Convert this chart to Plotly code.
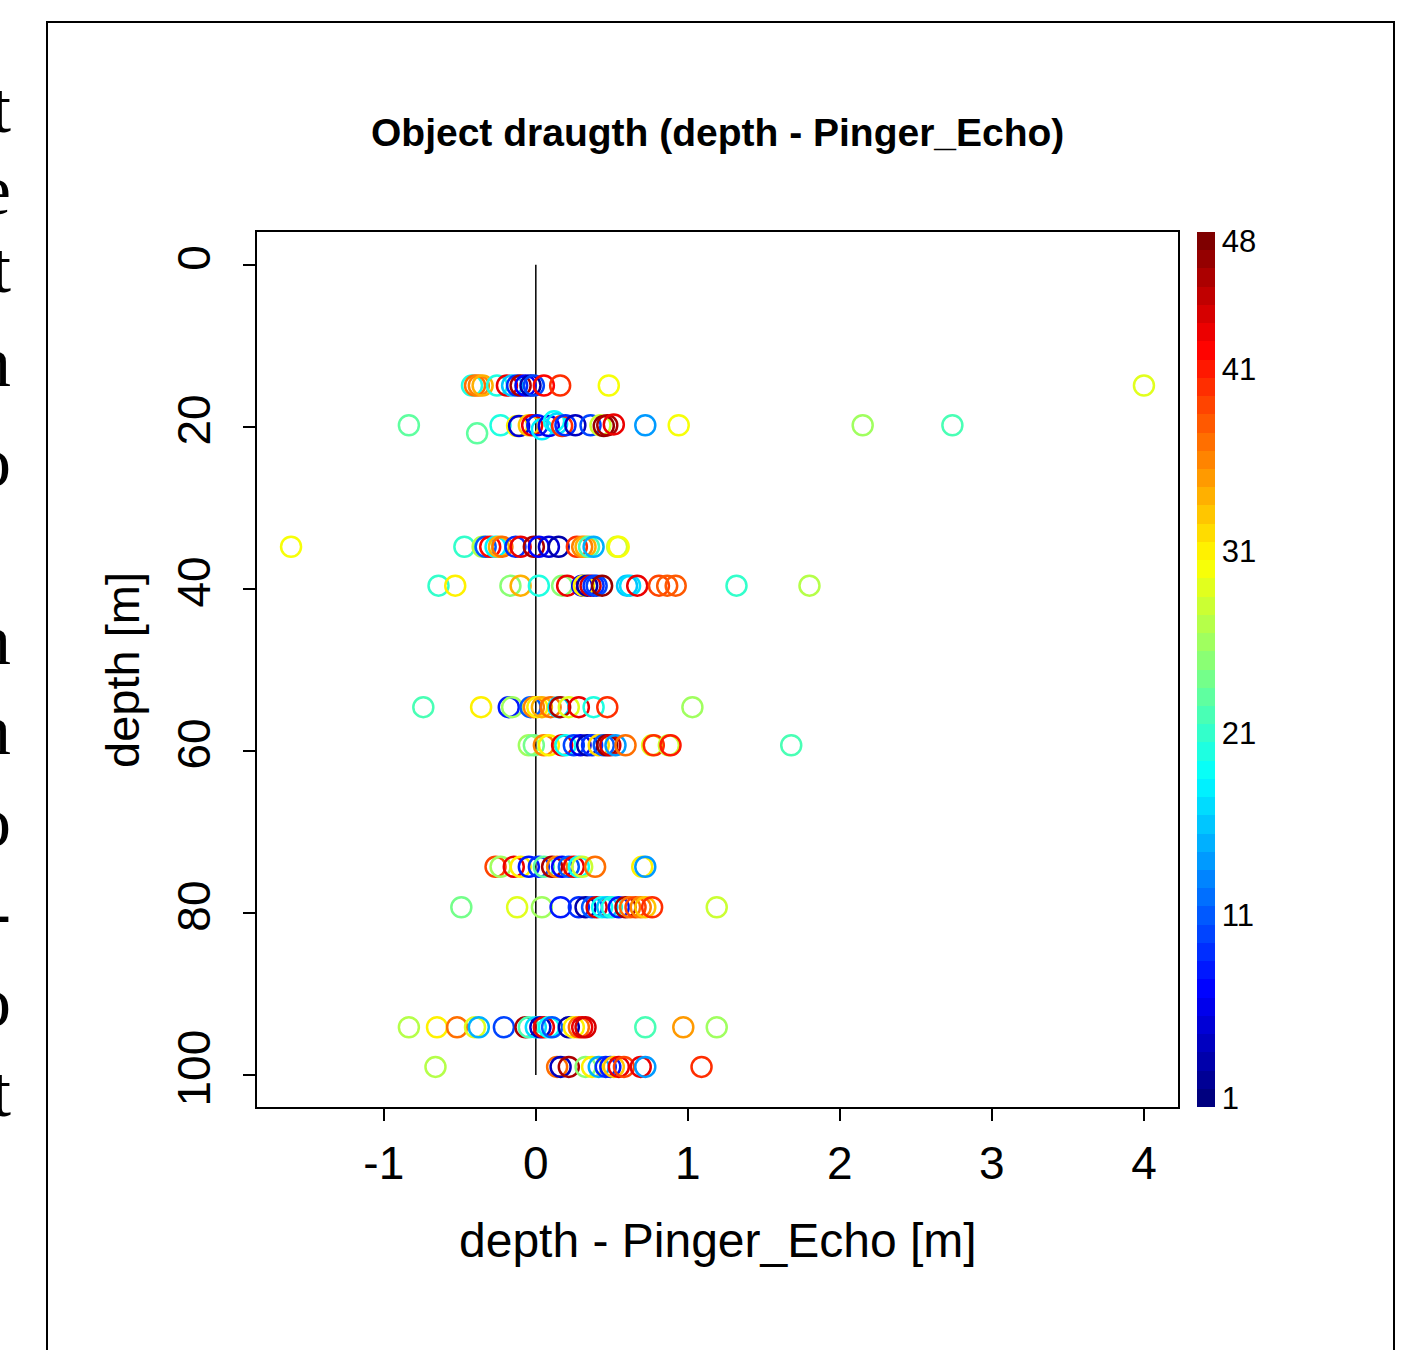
import plotly.graph_objects as go

# ---------------- data ----------------
diff_m = [
    # ~15 m
    -0.42, -0.40, -0.375, -0.35, -0.255, -0.19, -0.156, -0.123, -0.10, -0.068, -0.035, -0.013, 0.053, 0.16, 0.48, 4.0,
    # ~20 m
    -0.835, -0.386, -0.232, -0.123, -0.11, -0.046, -0.024, 0.01, 0.04, 0.085, 0.12, 0.14, 0.173, 0.195, 0.26, 0.36,
    0.425, 0.447, 0.47, 0.513, 0.72, 0.94, 2.15, 2.74,
    # ~35 m
    -1.61, -0.47, -0.35, -0.33, -0.30, -0.265, -0.243, -0.22, -0.134, -0.10, -0.013, 0.02, 0.086, 0.15, 0.27, 0.305,
    0.327, 0.35, 0.38, 0.535, 0.545,
    # ~40 m
    -0.64, -0.53, -0.167, -0.10, 0.02, 0.173, 0.206, 0.305, 0.316, 0.338, 0.36, 0.38, 0.40, 0.436, 0.60, 0.62, 0.667,
    0.81, 0.864, 0.92, 1.32, 1.80,
    # ~55 m
    -0.74, -0.36, -0.178, -0.156, -0.035, -0.013, 0.01, 0.04, 0.097, 0.15, 0.16, 0.217, 0.283, 0.38, 0.47, 1.03,
    # ~60 m
    -0.046, -0.013, 0.053, 0.086, 0.173, 0.195, 0.25, 0.294, 0.338, 0.37, 0.414, 0.447, 0.47, 0.49, 0.524, 0.59,
    0.765, 0.776, 0.875, 0.886, 1.68,
    # ~75 m
    -0.265, -0.232, -0.145, -0.10, -0.046, 0.02, 0.053, 0.107, 0.14, 0.173, 0.217, 0.25, 0.283, 0.305, 0.39, 0.70, 0.72,
    # ~80 m
    -0.49, -0.123, 0.04, 0.163, 0.283, 0.327, 0.37, 0.40, 0.436, 0.47, 0.50, 0.546, 0.59, 0.62, 0.656, 0.69, 0.72,
    0.765, 1.19,
    # ~95 m
    -0.835, -0.65, -0.518, -0.40, -0.375, -0.21, -0.068, -0.046, 0.0, 0.03, 0.053, 0.086, 0.107, 0.217, 0.25, 0.283,
    0.305, 0.327, 0.72, 0.97, 1.19,
    # ~100 m
    -0.66, 0.14, 0.163, 0.217, 0.327, 0.37, 0.414, 0.46, 0.49, 0.513, 0.546, 0.58, 0.69, 0.72, 1.09,
]

depth_m = (
    [14.9] * 16
    + [19.8, 20.8, 19.8, 19.9, 19.9, 19.8, 19.8, 19.8, 20.3, 19.9, 19.3, 19.6, 19.9, 19.8, 19.8, 19.8,
       19.8, 19.9, 19.8, 19.7, 19.8, 19.8, 19.8, 19.8]
    + [34.8] * 21
    + [39.6] * 22
    + [54.6] * 16
    + [59.3] * 21
    + [74.3] * 17
    + [79.3] * 19
    + [94.1] * 21
    + [99.0] * 15
)

ping_no = [
    20, 37, 36, 34, 20, 43, 16, 9, 46, 7, 3, 10, 42, 40, 30, 29,
    23, 23, 20, 31, 5, 33, 43, 8, 18, 6, 19, 17, 40, 9, 4, 10, 28, 47, 46, 43, 14, 30, 26, 22,
    30, 21, 27, 11, 42, 18, 34, 37, 9, 43, 46, 7, 5, 3, 40, 36, 34, 22, 15, 28, 30,
    21, 31, 25, 34, 20, 25, 43, 6, 31, 3, 44, 9, 10, 47, 16, 17, 43, 39, 38, 38, 21, 27,
    22, 31, 8, 26, 11, 36, 31, 34, 37, 17, 46, 29, 43, 20, 40, 26,
    26, 24, 36, 31, 43, 19, 10, 6, 3, 9, 32, 11, 47, 44, 14, 37, 29, 40, 28, 41, 22,
    39, 26, 43, 31, 8, 9, 23, 46, 36, 7, 11, 43, 19, 28, 37, 31, 14,
    24, 29, 26, 8, 9, 3, 11, 44, 19, 16, 20, 8, 46, 37, 39, 36, 33, 40, 28,
    27, 31, 37, 29, 15, 10, 46, 22, 17, 4, 43, 19, 11, 3, 31, 37, 43, 44, 22, 35, 26,
    27, 37, 4, 46, 25, 31, 15, 9, 8, 33, 43, 39, 43, 14, 40,
]

x_ticks = [-1, 0, 1, 2, 3, 4]
y_ticks = [0, 20, 40, 60, 80, 100]
cbar_ticks = [1, 11, 21, 31, 41, 48]
ref_line_depth = [0, 100]
ref_line_diff = [0, 0]
n_levels = 48

# ---------------- jet palette (R style colorRampPalette) ----------------
anchors = ["#00007F", "#0000FF", "#007FFF", "#00FFFF", "#7FFF7F", "#FFFF00", "#FF7F00", "#FF0000", "#7F0000"]


def hex2rgb(h):
    return tuple(int(h[i:i + 2], 16) for i in (1, 3, 5))


anc = [hex2rgb(a) for a in anchors]
palette = []
for i in range(n_levels):
    t = i / (n_levels - 1) * (len(anc) - 1)
    k = min(int(t), len(anc) - 2)
    f = t - k
    c = [round(anc[k][j] + (anc[k + 1][j] - anc[k][j]) * f) for j in range(3)]
    palette.append("rgb(%d,%d,%d)" % tuple(c))

colorscale = []
for i, col in enumerate(palette):
    colorscale.append([i / n_levels, col])
    colorscale.append([(i + 1) / n_levels, col])

FONT = "Liberation Sans, Arial, sans-serif"

fig = go.Figure()

fig.add_trace(go.Scatter(
    x=ref_line_diff, y=ref_line_depth, mode="lines",
    line=dict(color="black", width=1.5), showlegend=False, hoverinfo="skip",
))

fig.add_trace(go.Scatter(
    x=diff_m, y=depth_m, mode="markers", showlegend=False,
    marker=dict(
        symbol="circle-open", size=20, color=ping_no,
        colorscale=colorscale, cmin=0.5, cmax=n_levels + 0.5,
        line=dict(width=2.5),
        showscale=True,
        colorbar=dict(
            x=1.0206, xanchor="left", xpad=0, ypad=0,
            y=0.5, yanchor="middle", len=1, lenmode="fraction",
            thickness=18, outlinewidth=0,
            tickvals=cbar_ticks, ticktext=[str(v) for v in cbar_ticks],
            ticks="", tickfont=dict(family=FONT, size=31, color="black"),
        ),
    ),
))

axis_common = dict(
    showline=True, mirror=True, linecolor="black", linewidth=2,
    ticks="outside", ticklen=12, tickwidth=2, tickcolor="black",
    showgrid=False, zeroline=False,
    tickfont=dict(family=FONT, size=46, color="black"),
)

fig.update_xaxes(range=[-1.834, 4.224], tickvals=x_ticks,
                 ticktext=[str(v) for v in x_ticks], ticklabelstandoff=3, **axis_common)
fig.update_yaxes(range=[103.95, -4.05], tickvals=y_ticks,
                 ticktext=[str(v) for v in y_ticks], tickangle=-90, ticklabelstandoff=15, **axis_common)

annotations = [
    dict(text="depth - Pinger_Echo [m]", x=0.5, y=-0.152, xref="paper", yref="paper",
         showarrow=False, xanchor="center", yanchor="middle",
         font=dict(family=FONT, size=48, color="black")),
    dict(text="depth [m]", x=-0.1466, y=(1107 - 670) / 875, xref="paper", yref="paper",
         showarrow=False, xanchor="center", yanchor="middle", textangle=-90,
         font=dict(family=FONT, size=47, color="black")),
]

# cut-off serif letters of the surrounding page on the left edge
side_letters = ["t", "e", "t", "n", "o", "n", "n", "o", "-", "o", "t"]
side_y = [108, 190, 268, 362, 462, 640, 730, 822, 912, 1002, 1092]
for ch, py in zip(side_letters, side_y):
    annotations.append(dict(
        text=ch, x=(12 - 257) / 921, y=(1107 - py) / 875, xref="paper", yref="paper",
        showarrow=False, xanchor="right", yanchor="middle", borderpad=0,
        font=dict(family="Liberation Serif, Times New Roman, serif", size=72, color="black"),
    ))

fig.update_layout(
    width=1410, height=1350,
    margin=dict(l=257, r=232, t=232, b=243),
    paper_bgcolor="white", plot_bgcolor="white",
    title=dict(text="<b>Object draugth (depth - Pinger_Echo)</b>", x=0.509, xanchor="center",
               y=1 - 132 / 1350, yanchor="middle",
               font=dict(family=FONT, size=39, color="black")),
    annotations=annotations,
    shapes=[dict(type="rect", xref="paper", yref="paper",
                 x0=(47 - 257) / 921, x1=(1394 - 257) / 921,
                 y0=(1107 - 1380) / 875, y1=(1107 - 22) / 875,
                 line=dict(color="black", width=2), fillcolor="rgba(0,0,0,0)", layer="above")],
)

fig.write_html("out.html")
